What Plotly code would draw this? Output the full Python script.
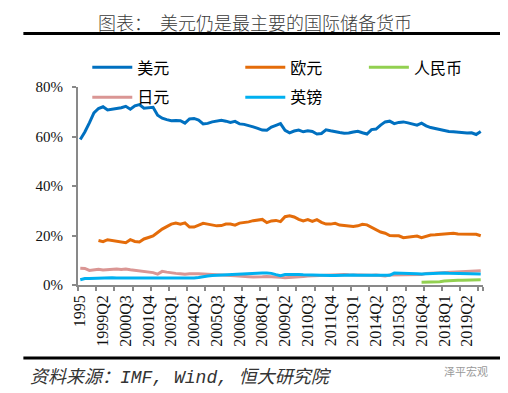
import plotly.graph_objects as go

# ---------------- data ----------------
categories = ["1995", "1996", "1997", "1998"] + [f"{y}Q{q}" for y in range(1999, 2020) for q in range(1, 5)] + ["2020Q1"]

usd = [58.8, 61.8, 65.5, 69.5, 71.3, 72.0, 70.7, 70.9, 71.3, 71.6,
       72.2, 71.0, 72.4, 72.9, 71.4, 71.6, 71.8, 68.6, 67.4, 66.8,
       66.4, 66.5, 66.4, 65.4, 67.1, 67.3, 66.6, 65.1, 65.3, 65.9,
       66.3, 66.6, 66.2, 65.7, 66.1, 65.1, 64.9, 64.5, 63.9, 63.3,
       62.6, 62.5, 63.8, 64.5, 65.2, 62.5, 61.5, 62.2, 62.6, 61.9,
       62.3, 62.0, 61.0, 61.2, 62.7, 62.3, 61.8, 61.6, 61.3, 61.4,
       61.8, 62.1, 61.5, 61.0, 62.8, 63.0, 64.6, 65.9, 66.2, 65.2,
       65.7, 65.9, 65.5, 65.2, 64.6, 65.4, 64.3, 63.6, 63.2, 62.7,
       62.5, 62.0, 61.9, 61.7, 61.7, 61.4, 61.5, 60.8, 62.0]

eur = [None, None, None, None,
       18.0, 17.5, 18.3, 18.0, 17.6, 17.5, 17.1, 18.3, 17.6, 17.4,
       18.6, 19.2, 19.8, 21.2, 22.6, 23.6, 24.6, 25.0, 24.6, 25.1,
       23.4, 23.4, 24.0, 24.9, 24.6, 24.3, 23.9, 24.0, 24.6, 24.6,
       24.2, 25.0, 25.1, 25.5, 26.0, 26.3, 26.5, 25.2, 25.9, 26.1,
       25.6, 27.6, 28.0, 27.5, 26.5, 25.9, 26.4, 25.7, 26.4, 25.3,
       24.6, 24.6, 24.9, 24.2, 24.0, 23.8, 23.6, 23.9, 24.5, 24.3,
       23.3, 22.5, 21.4, 20.9, 20.0, 19.9, 19.9, 19.1, 19.3, 19.8,
       19.8, 19.1, 19.6, 20.2, 20.3, 20.4, 20.4, 20.5, 20.9, 20.6,
       20.6, 20.5, 20.6, 20.5, 19.9]

rmb = [None] * 75 + [1.1, 1.1, 1.1, 1.2, 1.3, 1.6, 1.8, 1.8, 1.9, 1.9,
                     2.0, 2.0, 2.0, 2.1]

jpy = [6.8, 6.7, 5.9, 6.3, 6.4, 6.1, 6.3, 6.6, 6.5, 6.3,
       6.5, 6.2, 6.0, 5.5, 5.4, 5.3, 5.0, 4.4, 5.5, 5.2,
       5.1, 4.7, 4.5, 4.3, 4.5, 4.6, 4.5, 4.4, 4.2, 4.2,
       4.1, 3.9, 3.9, 3.8, 3.7, 3.5, 3.4, 3.3, 3.2, 3.1,
       3.3, 3.4, 3.4, 3.4, 3.1, 2.9, 3.0, 3.0, 3.2, 3.4,
       3.6, 3.7, 3.8, 3.9, 3.9, 4.0, 4.1, 4.2, 4.2, 4.1,
       4.0, 4.0, 3.9, 3.8, 3.9, 4.0, 3.8, 3.6, 4.0, 4.0,
       4.0, 3.9, 4.0, 4.1, 4.2, 4.2, 4.7, 4.8, 4.9, 4.9,
       5.0, 5.1, 5.2, 5.3, 5.4, 5.5, 5.6, 5.7, 5.8]

gbp = [2.1, 2.6, 2.6, 2.7, 2.8, 2.8, 2.8, 2.9, 2.8, 2.8,
       2.8, 2.8, 2.7, 2.7, 2.7, 2.7, 2.7, 2.8, 2.8, 2.8,
       2.7, 2.6, 2.6, 2.8, 2.9, 2.8, 3.0, 3.4, 3.6, 3.8,
       3.9, 4.1, 4.2, 4.3, 4.4, 4.5, 4.6, 4.7, 4.8, 4.8,
       4.8, 4.8, 4.7, 4.2, 3.8, 4.2, 4.3, 4.3, 4.2, 4.1,
       4.0, 3.9, 4.0, 4.0, 3.9, 3.8, 3.8, 3.9, 3.9, 4.0,
       4.0, 3.9, 3.9, 3.9, 3.8, 3.8, 3.8, 3.7, 3.9, 4.8,
       4.8, 4.7, 4.7, 4.6, 4.5, 4.4, 4.5, 4.5, 4.6, 4.7,
       4.8, 4.7, 4.7, 4.6, 4.7, 4.6, 4.6, 4.6, 4.4]

y_ticks = [0, 20, 40, 60, 80]
y_tick_text = ["0%", "20%", "40%", "60%", "80%"]
label_ticks = categories[::5]
mark_ticks = categories[::4]

title_text = "图表：  美元仍是最主要的国际储备货币"
source_text = "资料来源：IMF, Wind, 恒大研究院"
watermark_text = "泽平宏观"

# ---------------- layout helpers ----------------
# the page body has an 8px margin, so the figure is drawn 8px in from the
# window edge; targets below are given in window pixels.
OFF = 8
W, H = 508 - OFF, 393 - OFF
PLOT_L, PLOT_R, PLOT_T, PLOT_B = 77.7, 483.3, 86.7, 285.0   # window pixels
ML, MR = PLOT_L - OFF, W - (PLOT_R - OFF)
MT, MB = PLOT_T - OFF, H - (PLOT_B - OFF)
PW, PH = W - ML - MR, H - MT - MB


def px(x):
    return (x - PLOT_L) / PW


def py(y):
    return (PLOT_B - y) / PH


# ---------------- figure ----------------
fig = go.Figure()

series = {
    "美元": (usd, "#0070C0", "legend"),
    "欧元": (eur, "#E46C0A", "legend"),
    "人民币": (rmb, "#92D050", "legend3"),
    "日元": (jpy, "#DA9694", "legend2"),
    "英镑": (gbp, "#00B0F0", "legend2"),
}
legend_rank = {"美元": 1, "欧元": 2, "人民币": 1, "日元": 1, "英镑": 2}
draw_order = ["日元", "英镑", "人民币", "欧元", "美元"]
for name in draw_order:
    vals, col, lg = series[name]
    fig.add_trace(go.Scatter(
        x=categories, y=vals, name=name, mode="lines",
        line=dict(color=col, width=3),
        legend=lg, legendrank=legend_rank[name],
        connectgaps=False, xaxis="x", yaxis="y",
    ))

# invisible holder so the label axis (x2) gets its categories
fig.add_trace(go.Scatter(x=categories, y=usd, mode="lines", line=dict(width=0),
                         opacity=0, showlegend=False, hoverinfo="skip",
                         xaxis="x2", yaxis="y"))

axis_gray = "#898989"
serif = "Liberation Serif, Times New Roman, serif"
legend_font = dict(family="Noto Sans CJK SC", size=16, color="#000000")

fig.update_layout(
    width=W, height=H,
    paper_bgcolor="white", plot_bgcolor="white",
    margin=dict(l=ML, r=MR, t=MT, b=MB, autoexpand=False),
    showlegend=True,
    xaxis=dict(
        type="category", categoryorder="array", categoryarray=categories,
        range=[-0.5, len(categories) - 0.5],
        tickmode="array", tickvals=mark_ticks, tickson="boundaries",
        ticks="outside", ticklen=4, tickwidth=1.5, tickcolor=axis_gray,
        showticklabels=False, showgrid=False, zeroline=False,
        showline=True, linecolor=axis_gray, linewidth=2,
    ),
    xaxis2=dict(
        type="category", categoryorder="array", categoryarray=categories,
        range=[-0.5, len(categories) - 0.5], overlaying="x", anchor="y", side="bottom",
        matches="x",
        tickmode="array", tickvals=label_ticks, ticktext=label_ticks,
        ticks="", tickangle=-90, tickfont=dict(family=serif, size=16, color="#111111"),
        ticklabelstandoff=6,
        showgrid=False, zeroline=False, showline=False,
    ),
    yaxis=dict(
        range=[0, 80], tickmode="array", tickvals=y_ticks, ticktext=y_tick_text,
        ticks="outside", ticklen=4, tickwidth=1.5, tickcolor=axis_gray,
        tickfont=dict(family=serif, size=15, color="#111111"),
        showgrid=False, zeroline=False, showline=True, linecolor=axis_gray, linewidth=2,
        ticklabelstandoff=6,
    ),
    legend=dict(
        orientation="h", x=px(87), xanchor="left", y=py(50), yanchor="top",
        font=legend_font, entrywidth=98, entrywidthmode="pixels", itemwidth=40,
        bgcolor="rgba(0,0,0,0)", traceorder="normal",
    ),
    legend3=dict(
        orientation="h", x=px(364), xanchor="left", y=py(50), yanchor="top",
        font=legend_font, itemwidth=40,
        bgcolor="rgba(0,0,0,0)", traceorder="normal",
    ),
    legend2=dict(
        orientation="h", x=px(87), xanchor="left", y=py(80), yanchor="top",
        font=legend_font, entrywidth=98, entrywidthmode="pixels", itemwidth=40,
        bgcolor="rgba(0,0,0,0)", traceorder="normal",
    ),
    shapes=[
        dict(type="line", xref="paper", yref="paper",
             x0=px(23), x1=px(503), y0=py(33), y1=py(33),
             line=dict(color="#000000", width=3)),
        dict(type="line", xref="paper", yref="paper",
             x0=px(23), x1=px(503), y0=py(358), y1=py(358),
             line=dict(color="#000000", width=3)),
    ],
    annotations=[
        dict(text=title_text, xref="paper", yref="paper",
             x=px(255), y=py(8), xanchor="center", yanchor="top",
             showarrow=False, borderpad=0,
             font=dict(family="Noto Sans CJK SC", size=18, color="#3a3a3a", weight=300)),
        dict(text="<i>" + source_text + "</i>", xref="paper", yref="paper",
             x=px(28), y=py(378), xanchor="left", yanchor="middle",
             showarrow=False,
             font=dict(family="Liberation Mono, Noto Sans CJK SC", size=18, color="#333333")),
        dict(text=watermark_text, xref="paper", yref="paper",
             x=px(490), y=py(371), xanchor="right", yanchor="middle",
             showarrow=False,
             font=dict(family="Noto Sans CJK SC", size=11, color="#9a9a9a")),
    ],
)

fig.write_html("out.html")
